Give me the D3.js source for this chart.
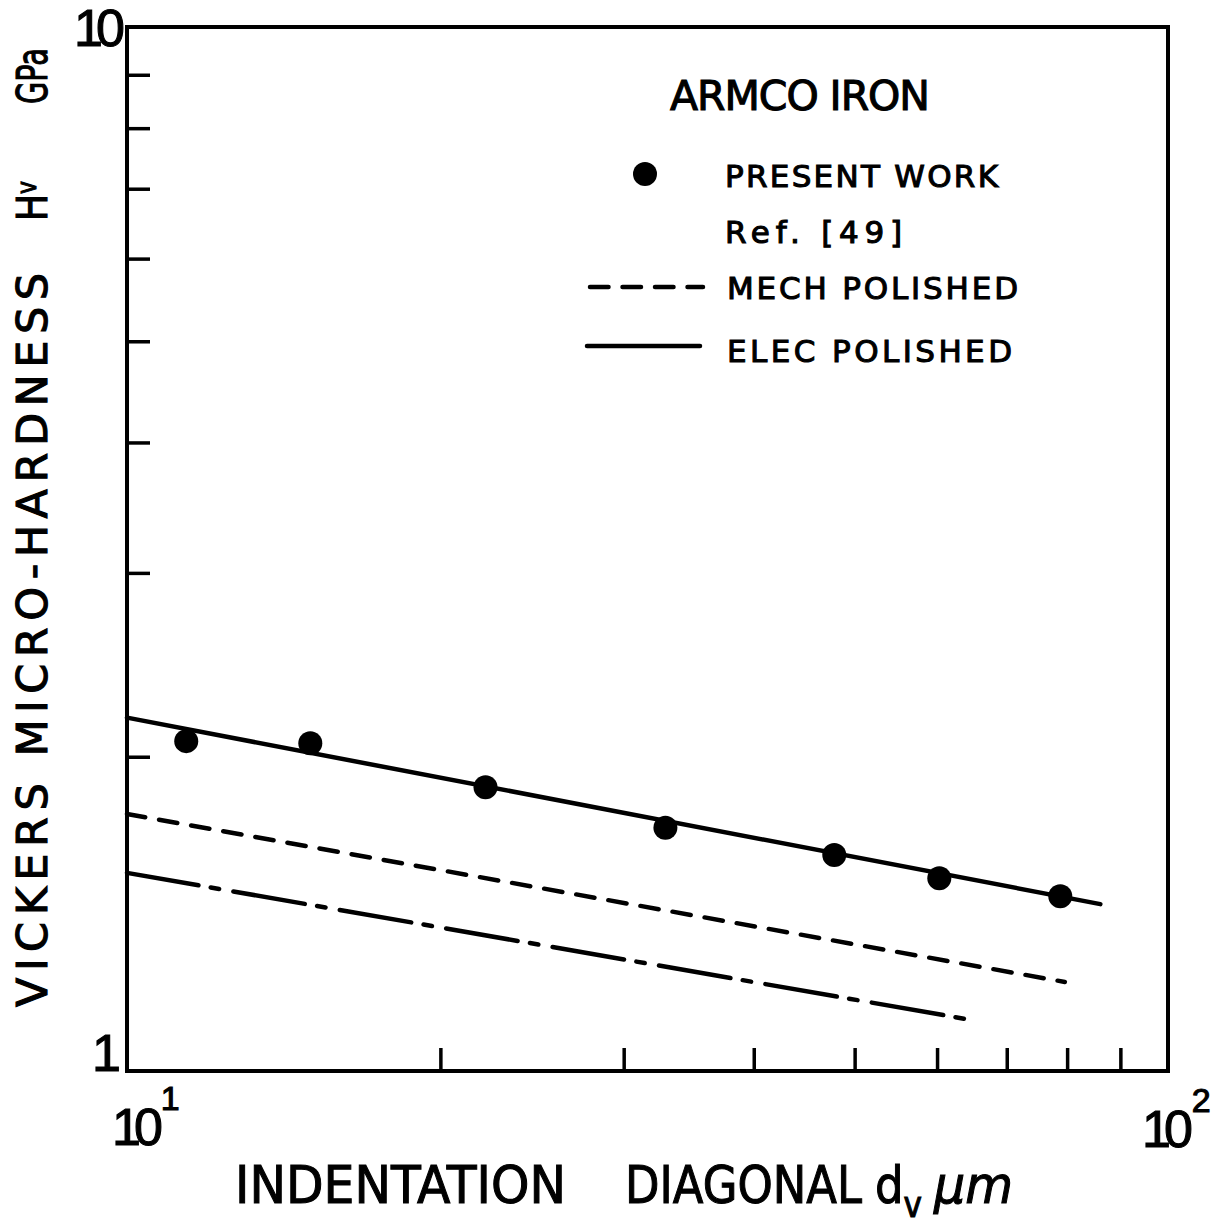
<!DOCTYPE html>
<html>
<head>
<meta charset="utf-8">
<script src="https://cdn.jsdelivr.net/npm/d3@7"></script>
<style>
  body { margin: 0; background: #fff; }
  text { font-family: "DejaVu Sans", sans-serif; fill: #000; stroke: #000; stroke-width: 1.1; }
  .num { font-family: "Liberation Sans", sans-serif; }
</style>
</head>
<body>
<script>
// measured values (Armco iron, Vickers micro-hardness vs indentation diagonal)
const diag = [11.4, 15.0, 22.1, 32.9, 47.8, 60.3, 78.8]
const hardness = [2.07, 2.06, 1.87, 1.71, 1.61, 1.53, 1.47]

// Ref. [49] fitted lines (end points)
const elecDiag = [10, 86.1]
const elecHv = [2.18, 1.445]
const mechDiag = [10, 79.6]
const mechHv = [1.763, 1.217]
const otherDiag = [10, 64.1]
const otherHv = [1.548, 1.121]

const xMinorTicks = [20, 30, 40, 50, 60, 70, 80, 90]
const yMinorTicks = [2, 3, 4, 5, 6, 7, 8, 9]
const xDecades = [10, 100]
const yDecades = [1, 10]

var margin = {top: 27, left: 127},
  width = 1041,
  height = 1044;

var svg = d3.select("body").append("svg")
  .attr("width", 1214)
  .attr("height", 1226)

var g = svg.append("g")
  .attr("transform", "translate(" + margin.left + "," + margin.top + ")")

var x = d3.scaleLog().domain([10, 100]).range([0, width])
var y = d3.scaleLog().domain([1, 10]).range([height, 0])

// frame
g.append("rect")
  .attr("width", width)
  .attr("height", height)
  .attr("fill", "none")
  .attr("stroke", "#000")
  .attr("stroke-width", 4)

// inward ticks
g.append("g")
  .attr("class", "xAxis")
  .attr("transform", "translate(0," + height + ")")
  .call(d3.axisBottom(x).tickValues(xMinorTicks).tickSize(-23).tickFormat(""))
g.append("g")
  .attr("class", "yAxis")
  .call(d3.axisLeft(y).tickValues(yMinorTicks).tickSize(-23).tickFormat(""))

g.selectAll(".domain").remove()
g.selectAll(".tick line")
  .attr("stroke", "#000")
  .attr("stroke-width", 3.5)

// lines
const line = d3.line().x(d => x(d[0])).y(d => y(d[1]))

function drawLine(ds, hs, dash) {
  g.append("path")
    .datum(ds.map((d, i) => [d, hs[i]]))
    .attr("d", line)
    .attr("fill", "none")
    .attr("stroke", "#000")
    .attr("stroke-width", 4.5)
    .attr("stroke-linecap", "round")
    .attr("stroke-dasharray", dash)
}
drawLine(elecDiag, elecHv, null)
drawLine(mechDiag, mechHv, "18.5,14.1")
drawLine(otherDiag, otherHv, "72.5,12.5,8.5,14.5")

// data points
g.selectAll("circle.pt")
  .data(diag.map((d, i) => [d, hardness[i]]))
  .enter().append("circle")
  .attr("class", "pt")
  .attr("cx", d => x(d[0]))
  .attr("cy", d => y(d[1]))
  .attr("r", 12)
  .attr("fill", "#000")

// tick labels (decades)
svg.append("text").attr("class", "num")
  .attr("x", margin.left - 53)
  .attr("y", margin.top + y(yDecades[1]) + 19)
  .attr("font-size", 52)
  .attr("letter-spacing", -7)
  .text(yDecades[1])
svg.append("text").attr("class", "num")
  .attr("x", margin.left - 35)
  .attr("y", margin.top + y(yDecades[0]))
  .attr("font-size", 52)
  .text(yDecades[0])

xDecades.forEach((v, i) => {
  var px = margin.left + x(v)
  var t = svg.append("text").attr("class", "num")
    .attr("x", px + [-15, -26][i])
    .attr("y", margin.top + height + [74, 76][i])
    .attr("font-size", 52)
    .attr("letter-spacing", -7)
  t.append("tspan").text("10")
  t.append("tspan")
    .attr("font-size", 34)
    .attr("dx", [5, 6][i])
    .attr("dy", -35)
    .attr("letter-spacing", 0)
    .text(Math.round(Math.log10(v)))
})

// x title
svg.append("text").attr("x", 235).attr("y", 1203).attr("font-size", 52)
  .attr("textLength", 331).attr("lengthAdjust", "spacingAndGlyphs").text("INDENTATION")
svg.append("text").attr("x", 625).attr("y", 1203).attr("font-size", 52)
  .attr("textLength", 237).attr("lengthAdjust", "spacingAndGlyphs").text("DIAGONAL")
var dv = svg.append("text").attr("x", 875).attr("y", 1203).attr("font-size", 52)
  .attr("textLength", 47).attr("lengthAdjust", "spacingAndGlyphs")
dv.append("tspan").text("d")
dv.append("tspan").attr("font-size", 36).attr("dy", 14).text("v")
svg.append("text").attr("x", 934).attr("y", 1203).attr("font-size", 52)
  .attr("font-style", "italic")
  .attr("textLength", 79).attr("lengthAdjust", "spacingAndGlyphs").text("μm")

// y title (rotated)
var yt = svg.append("g").attr("transform", "translate(47,0) rotate(-90)")
yt.append("text").attr("x", -1007).attr("y", 0).attr("font-size", 43)
  .attr("textLength", 734).attr("lengthAdjust", "spacing").text("VICKERS MICRO-HARDNESS")
var hv = yt.append("text").attr("x", -221).attr("y", 0).attr("font-size", 43)
  .attr("textLength", 40).attr("lengthAdjust", "spacingAndGlyphs")
hv.append("tspan").text("H")
hv.append("tspan").attr("font-size", 26).attr("dy", -11).text("v")
yt.append("text").attr("x", -104).attr("y", 0).attr("font-size", 43)
  .attr("textLength", 56).attr("lengthAdjust", "spacingAndGlyphs").text("GPa")

// legend
const legendLabels = ["ARMCO IRON", "PRESENT WORK", "Ref. [49]", "MECH POLISHED", "ELEC POLISHED"]
const legendX = [670, 725, 725, 727, 727]
const legendY = [110, 187, 243, 299, 362]
const legendLen = [260, 273, 177, 291, 285]
const legendSize = [41, 31, 31, 31, 31]

svg.append("g").selectAll("text")
  .data(legendLabels)
  .enter().append("text")
  .attr("x", (d, i) => legendX[i])
  .attr("y", (d, i) => legendY[i])
  .attr("font-size", (d, i) => legendSize[i])
  .attr("textLength", (d, i) => legendLen[i])
  .attr("lengthAdjust", "spacing")
  .text(d => d)

svg.append("circle").attr("cx", 645).attr("cy", 174).attr("r", 12).attr("fill", "#000")
svg.append("line").attr("x1", 590).attr("x2", 703).attr("y1", 287).attr("y2", 287)
  .attr("stroke", "#000").attr("stroke-width", 4.5).attr("stroke-linecap", "round")
  .attr("stroke-dasharray", "18.5,14")
svg.append("line").attr("x1", 587).attr("x2", 700).attr("y1", 346).attr("y2", 346)
  .attr("stroke", "#000").attr("stroke-width", 4.5).attr("stroke-linecap", "round")
</script>
</body>
</html>
